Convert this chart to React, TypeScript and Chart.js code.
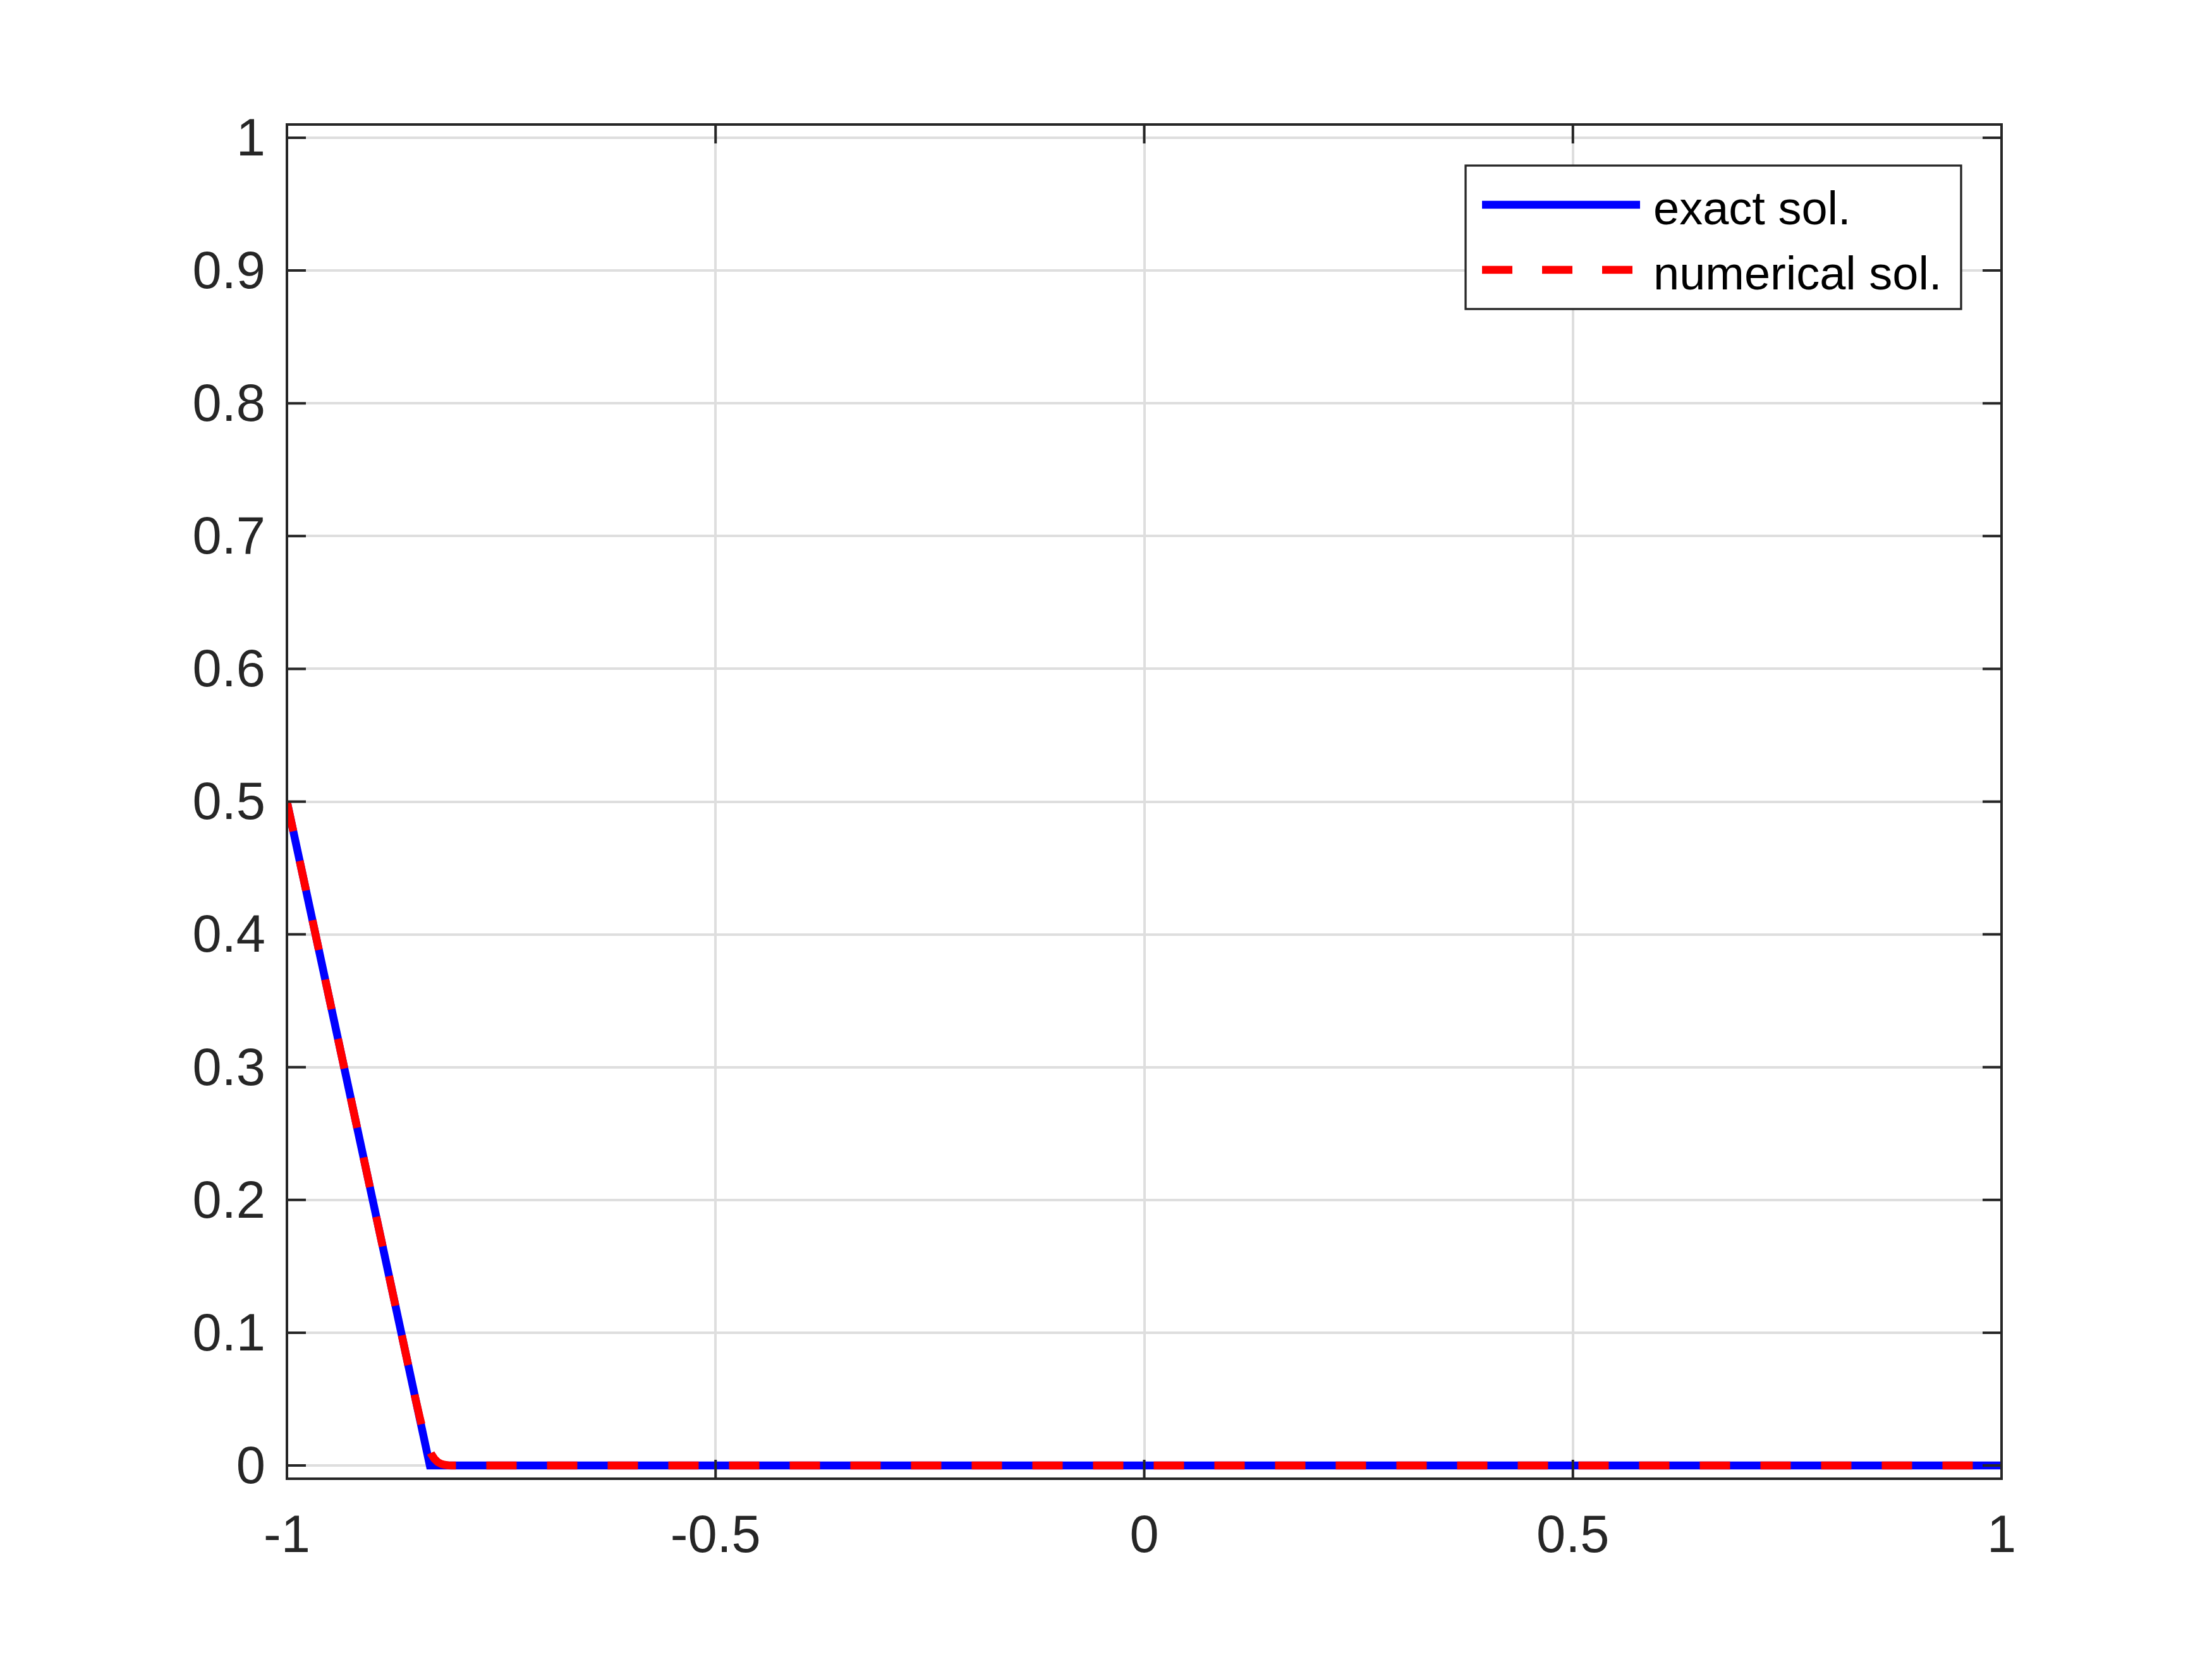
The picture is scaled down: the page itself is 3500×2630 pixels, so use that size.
import React, { useEffect, useRef } from "react";
import { Chart, registerables } from "chart.js";

Chart.register(...registerables);

// ---- data ----
const exactX = [-1, -0.8333, 1];
const exactY = [0.5, 0, 0];
const numX = [-1, -0.95, -0.9, -0.85, -0.845, -0.84, -0.836, -0.832, -0.828, -0.824, -0.82, -0.816, -0.812, -0.808, 1];
const numY = [0.5, 0.35, 0.2, 0.05, 0.036, 0.023, 0.015, 0.009, 0.005, 0.0025, 0.0012, 0.0005, 0.0001, 0, 0];
const xTickValues = [-1, -0.5, 0, 0.5, 1];
const xTickLabels = ["-1", "-0.5", "0", "0.5", "1"];
const yTickValues = [0, 0.1, 0.2, 0.3, 0.4, 0.5, 0.6, 0.7, 0.8, 0.9, 1];
const yTickLabels = ["0", "0.1", "0.2", "0.3", "0.4", "0.5", "0.6", "0.7", "0.8", "0.9", "1"];
const seriesLabels = ["exact sol.", "numerical sol."];
const seriesColors = ["#0000ff", "#ff0000"];

const W = 3500;
const H = 2630;
const FONT = "'Liberation Sans', Arial, Helvetica, sans-serif";
const AXIS = "#262626";
const LW = 12.5;

const boxPlugin = {
  id: "matlabBox",
  afterDraw(chart: any) {
    const ctx = chart.ctx as CanvasRenderingContext2D;
    const { left, right, top, bottom } = chart.chartArea;
    const xs = chart.scales.x;
    const ys = chart.scales.y;
    const tl = 30;
    ctx.save();
    ctx.strokeStyle = AXIS;
    ctx.lineWidth = 4;
    ctx.lineCap = "butt";
    ctx.beginPath();
    for (const v of xTickValues) {
      const px = xs.getPixelForValue(v);
      ctx.moveTo(px, bottom);
      ctx.lineTo(px, bottom - tl);
      ctx.moveTo(px, top);
      ctx.lineTo(px, top + tl);
    }
    for (const v of yTickValues) {
      const py = ys.getPixelForValue(v);
      ctx.moveTo(left, py);
      ctx.lineTo(left + tl, py);
      ctx.moveTo(right, py);
      ctx.lineTo(right - tl, py);
    }
    ctx.stroke();
    ctx.strokeRect(left, top, right - left, bottom - top);

    // legend
    const lx = 2319, ly = 262, lw = 3103 - 2319, lh = 489 - 262;
    ctx.fillStyle = "#ffffff";
    ctx.fillRect(lx, ly, lw, lh);
    ctx.lineWidth = 3.3;
    ctx.strokeStyle = AXIS;
    ctx.strokeRect(lx, ly, lw, lh);
    const rows = [324, 427];
    ctx.lineWidth = LW;
    ctx.strokeStyle = seriesColors[0];
    ctx.setLineDash([]);
    ctx.beginPath();
    ctx.moveTo(2345, rows[0]);
    ctx.lineTo(2595, rows[0]);
    ctx.stroke();
    ctx.strokeStyle = seriesColors[1];
    ctx.setLineDash([48, 47]);
    ctx.beginPath();
    ctx.moveTo(2345, rows[1]);
    ctx.lineTo(2585, rows[1]);
    ctx.stroke();
    ctx.setLineDash([]);
    ctx.fillStyle = "#000000";
    ctx.font = `74px ${FONT}`;
    ctx.textAlign = "left";
    ctx.textBaseline = "alphabetic";
    ctx.fillText(seriesLabels[0], 2616, rows[0] + 31);
    ctx.fillText(seriesLabels[1], 2616, rows[1] + 31);
    ctx.restore();
  },
};

export default function App() {
  const ref = useRef<HTMLCanvasElement | null>(null);
  useEffect(() => {
    if (!ref.current) return;
    const chart = new Chart(ref.current, {
      type: "scatter",
      data: {
        datasets: [
          {
            label: seriesLabels[0],
            data: exactX.map((x, i) => ({ x, y: exactY[i] })),
            showLine: true,
            borderColor: seriesColors[0],
            backgroundColor: seriesColors[0],
            borderWidth: LW,
            pointRadius: 0,
            borderCapStyle: "butt",
            borderJoinStyle: "miter",
            order: 2,
          },
          {
            label: seriesLabels[1],
            data: numX.map((x, i) => ({ x, y: numY[i] })),
            showLine: true,
            borderColor: seriesColors[1],
            backgroundColor: seriesColors[1],
            borderWidth: LW,
            borderDash: [48, 48],
            pointRadius: 0,
            borderCapStyle: "butt",
            borderJoinStyle: "round",
            order: 1,
          },
        ],
      },
      options: {
        animation: false,
        responsive: false,
        devicePixelRatio: 1,
        layout: { padding: { left: 0, top: 197, right: W - 3167, bottom: 0 } },
        plugins: { legend: { display: false }, tooltip: { enabled: false } },
        scales: {
          x: {
            type: "linear",
            min: -1,
            max: 1,
            afterFit: (s: any) => {
              s.height = H - 2340;
            },
            afterBuildTicks: (s: any) => {
              s.ticks = xTickValues.map((v) => ({ value: v }));
            },
            border: { display: false },
            grid: { color: "#dedede", lineWidth: 4, drawTicks: false },
            ticks: {
              padding: 43,
              color: AXIS,
              font: { family: FONT, size: 83 },
              maxRotation: 0,
              autoSkip: false,
              callback: (v: any) => {
                const i = xTickValues.indexOf(Number(v));
                return i >= 0 ? xTickLabels[i] : "";
              },
            },
          },
          y: {
            type: "linear",
            min: -0.01,
            max: 1.01,
            afterFit: (s: any) => {
              s.width = 454;
            },
            afterBuildTicks: (s: any) => {
              s.ticks = yTickValues.map((v) => ({ value: v }));
            },
            border: { display: false },
            grid: { color: "#dedede", lineWidth: 4, drawTicks: false },
            ticks: {
              padding: 34,
              labelOffset: 5,
              color: AXIS,
              font: { family: FONT, size: 83 },
              autoSkip: false,
              callback: (v: any) => {
                const i = yTickValues.indexOf(Number(v));
                return i >= 0 ? yTickLabels[i] : "";
              },
            },
          },
        },
      },
      plugins: [boxPlugin],
    });
    return () => chart.destroy();
  }, []);
  return (
    <div style={{ position: "absolute", left: 0, top: 0, width: W, height: H, background: "#ffffff" }}>
      <canvas ref={ref} width={W} height={H} style={{ display: "block", width: W, height: H }} />
    </div>
  );
}
